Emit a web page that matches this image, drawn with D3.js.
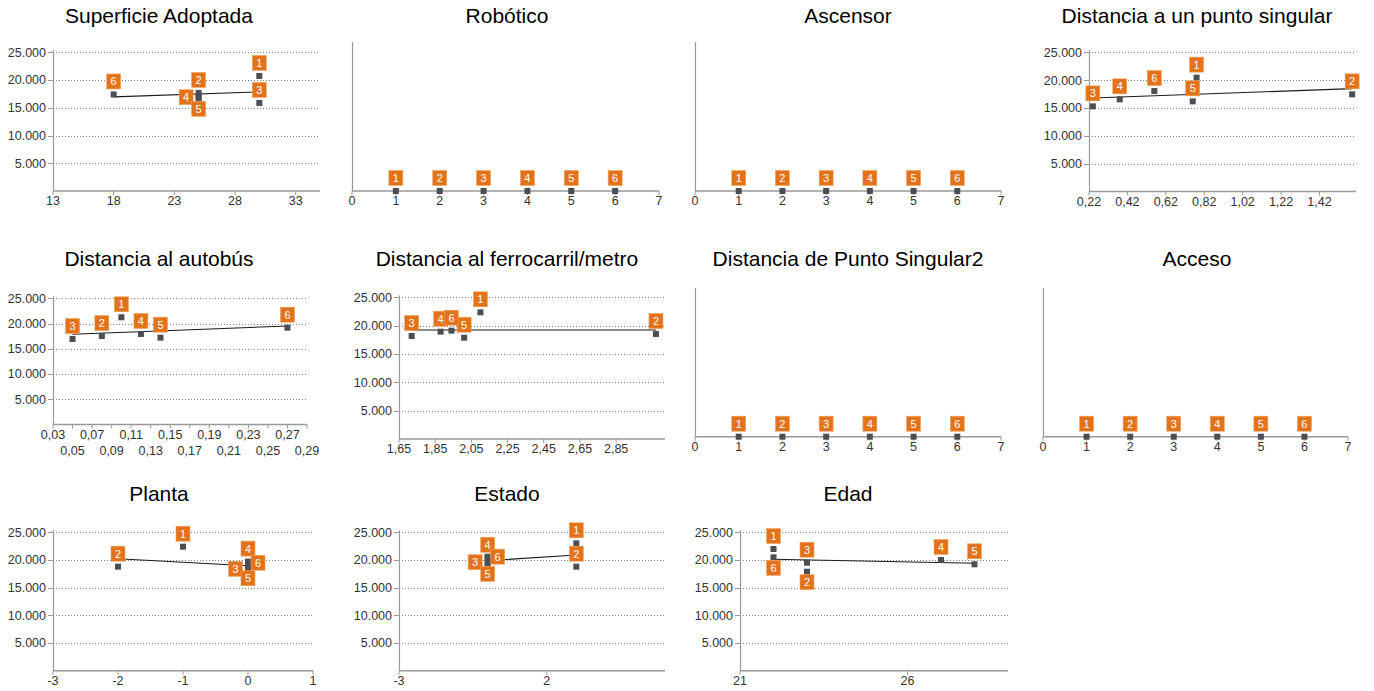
<!DOCTYPE html>
<html>
<head>
<meta charset="utf-8">
<script src="https://cdn.jsdelivr.net/npm/d3@7"></script>
<style>
  body { margin: 0; background: #fff; }
  svg { display: block; font-family: "Liberation Sans", Arial, sans-serif; }
</style>
</head>
<body>
<svg id="chart"></svg>
<script>
// ---- data ----
const pointIds = [1, 2, 3, 4, 5, 6];
const yTicks = [5000, 10000, 15000, 20000, 25000];

const superficieX = [30, 25, 30, 25, 25, 18];
const superficieY = [20740, 17680, 15880, 16900, 16700, 17400];
const superficieTrend = [[18, 16960], [30, 17860]];
const superficieTicks = [13, 18, 23, 28, 33];

const roboticoX = [1, 2, 3, 4, 5, 6];
const roboticoY = [0, 0, 0, 0, 0, 0];
const ascensorX = [1, 2, 3, 4, 5, 6];
const ascensorY = [0, 0, 0, 0, 0, 0];
const unitTicks = [0, 1, 2, 3, 4, 5, 6, 7];

const puntoX = [0.78, 1.59, 0.24, 0.38, 0.76, 0.56];
const puntoY = [20450, 17450, 15290, 16550, 16190, 18040];
const puntoTrend = [[0.24, 16780], [1.59, 18470]];
const puntoTicks = [0.22, 0.42, 0.62, 0.82, 1.02, 1.22, 1.42];

const autobusX = [0.10, 0.08, 0.05, 0.12, 0.14, 0.27];
const autobusY = [21240, 17530, 16940, 17930, 17200, 19180];
const autobusTrend = [[0.05, 17870], [0.27, 19510]];
const autobusTicks = [0.03, 0.05, 0.07, 0.09, 0.11, 0.13, 0.15, 0.17, 0.19, 0.21, 0.23, 0.25, 0.27, 0.29];

const ferroX = [2.10, 3.07, 1.72, 1.88, 2.01, 1.94];
const ferroY = [22350, 18520, 18170, 18930, 17870, 19110];
const ferroTrend = [[1.72, 19230], [3.07, 19230]];
const ferroTicks = [1.65, 1.85, 2.05, 2.25, 2.45, 2.65, 2.85];

const singular2X = [1, 2, 3, 4, 5, 6];
const singular2Y = [0, 0, 0, 0, 0, 0];
const accesoX = [1, 2, 3, 4, 5, 6];
const accesoY = [0, 0, 0, 0, 0, 0];

const plantaX = [-1, -2, 0, 0, 0, 0];
const plantaY = [22400, 18790, 18400, 19700, 18600, 19500];
const plantaTrend = [[-2, 20230], [0, 18970]];
const plantaTicks = [-3, -2, -1, 0, 1];

const estadoX = [3, 3, 0, 0, 0, 0];
const estadoY = [23010, 18790, 19600, 20400, 19400, 20600];
const estadoTrend = [[0, 19870], [3, 20900]];
const estadoTicks = [-3, 2];

const edadX = [22, 23, 23, 27, 28, 22];
const edadY = [21980, 17880, 19510, 20000, 19220, 20480];
const edadTrend = [[22, 20120], [28, 19400]];
const edadTicks = [21, 26];

// ---- layout ----
const width = 1374, height = 691;
const loc = d3.formatLocale({ decimal: ",", thousands: ".", grouping: [3], currency: ["", ""], minus: "-" });
const fmtY = loc.format(",d");
const fmtInt = loc.format("d");
const fmtDec = loc.format(".2f");

const labelOffset = { up: [0, -13], down: [0, 10.5], left: [-12.5, 0], right: [10, 0] };
const allUp = ["up", "up", "up", "up", "up", "up"];

const panels = [
  { title: "Superficie Adoptada", tx: 159, ty: 23, xs: superficieX, ys: superficieY, trend: superficieTrend,
    ticks: superficieTicks, domain: [13, 35], fmt: fmtInt, grid: true, x0: 53, x1: 320, base: 191, top: 52.3,
    sides: ["up", "up", "up", "left", "down", "up"] },
  { title: "Robótico", tx: 507, ty: 23, xs: roboticoX, ys: roboticoY, ticks: unitTicks, domain: [0, 7],
    fmt: fmtInt, grid: false, x0: 352, x1: 659, base: 191, top: 42, sides: allUp },
  { title: "Ascensor", tx: 848, ty: 23, xs: ascensorX, ys: ascensorY, ticks: unitTicks, domain: [0, 7],
    fmt: fmtInt, grid: false, x0: 695, x1: 1001, base: 191, top: 42, sides: allUp },
  { title: "Distancia a un punto singular", tx: 1197, ty: 23, xs: puntoX, ys: puntoY, trend: puntoTrend,
    ticks: puntoTicks, domain: [0.22, 1.61], fmt: fmtDec, grid: true, x0: 1089, x1: 1356, base: 191.5, top: 52.3,
    sides: allUp },
  { title: "Distancia al autobús", tx: 159, ty: 266, xs: autobusX, ys: autobusY, trend: autobusTrend,
    ticks: autobusTicks, domain: [0.03, 0.29], fmt: fmtDec, grid: true, stagger: true, x0: 53, x1: 307,
    base: 424.5, top: 298.3, sides: allUp },
  { title: "Distancia al ferrocarril/metro", tx: 507, ty: 266, xs: ferroX, ys: ferroY, trend: ferroTrend,
    ticks: ferroTicks, domain: [1.65, 3.12], fmt: fmtDec, grid: true, x0: 399, x1: 665, base: 439, top: 297.3,
    sides: allUp },
  { title: "Distancia de Punto Singular2", tx: 848, ty: 266, xs: singular2X, ys: singular2Y, ticks: unitTicks,
    domain: [0, 7], fmt: fmtInt, grid: false, x0: 695, x1: 1001, base: 436.7, top: 288, sides: allUp },
  { title: "Acceso", tx: 1197, ty: 266, xs: accesoX, ys: accesoY, ticks: unitTicks, domain: [0, 7],
    fmt: fmtInt, grid: false, x0: 1043, x1: 1348, base: 436.7, top: 288, sides: allUp },
  { title: "Planta", tx: 159, ty: 501, xs: plantaX, ys: plantaY, trend: plantaTrend, ticks: plantaTicks,
    domain: [-3, 1], fmt: fmtInt, grid: true, x0: 53, x1: 313, base: 670.7, top: 532.3,
    sides: ["up", "up", "left", "up", "down", "right"] },
  { title: "Estado", tx: 507, ty: 501, xs: estadoX, ys: estadoY, trend: estadoTrend, ticks: estadoTicks,
    domain: [-3, 6], fmt: fmtInt, grid: true, x0: 399, x1: 665, base: 670.7, top: 532.3,
    sides: ["up", "up", "left", "up", "down", "right"] },
  { title: "Edad", tx: 848, ty: 501, xs: edadX, ys: edadY, trend: edadTrend, ticks: edadTicks,
    domain: [21, 29], fmt: fmtInt, grid: true, x0: 740, x1: 1008, base: 670.7, top: 532.3,
    sides: ["up", "down", "up", "up", "up", "down"] }
];

const svg = d3.select("#chart").attr("width", width).attr("height", height);

function drawPanel(p) {
  const g = svg.append("g");
  const x = d3.scaleLinear().domain(p.domain).range([p.x0, p.x1]);
  const y = d3.scaleLinear().domain([0, 25000]).range([p.base, p.top]);

  // title
  g.append("text")
    .attr("x", p.tx).attr("y", p.ty)
    .attr("text-anchor", "middle")
    .style("font-size", "21px")
    .style("fill", "#000")
    .text(p.title);

  // gridlines + y ticks
  if (p.grid) {
    g.selectAll(".grid")
      .data(yTicks)
      .join("line")
      .attr("x1", p.x0).attr("x2", p.x1)
      .attr("y1", d => Math.round(y(d)) + 0.5).attr("y2", d => Math.round(y(d)) + 0.5)
      .attr("stroke", "#7a7a7a")
      .attr("stroke-dasharray", "1,2");

    g.selectAll(".ytick")
      .data(yTicks)
      .join("line")
      .attr("x1", p.x0 - 5).attr("x2", p.x0)
      .attr("y1", d => Math.round(y(d)) + 0.5).attr("y2", d => Math.round(y(d)) + 0.5)
      .attr("stroke", "#999");

    g.selectAll(".ylab")
      .data(yTicks)
      .join("text")
      .attr("x", p.x0 - 7).attr("y", d => y(d))
      .attr("dy", "0.35em")
      .attr("text-anchor", "end")
      .style("font-size", "12.5px")
      .style("fill", "#333")
      .text(d => fmtY(d));
  }

  // axes lines
  g.append("line")
    .attr("x1", p.x0 + 0.5).attr("x2", p.x0 + 0.5)
    .attr("y1", p.base).attr("y2", p.grid ? p.top - 2 : p.top)
    .attr("stroke", "#999").attr("stroke-width", 1.2);
  g.append("line")
    .attr("x1", p.x0).attr("x2", p.x1)
    .attr("y1", p.base).attr("y2", p.base)
    .attr("stroke", "#999").attr("stroke-width", 1.5);

  // x ticks
  g.selectAll(".xtick")
    .data(p.ticks)
    .join("line")
    .attr("x1", d => x(d)).attr("x2", d => x(d))
    .attr("y1", p.base).attr("y2", p.base + 4)
    .attr("stroke", "#999");

  g.selectAll(".xlab")
    .data(p.ticks)
    .join("text")
    .attr("x", d => x(d))
    .attr("y", (d, i) => p.base + 14 + (p.stagger && i % 2 === 1 ? 16.5 : 0))
    .attr("text-anchor", "middle")
    .style("font-size", "12.5px")
    .style("fill", "#333")
    .text(d => p.fmt(d));

  // trend line
  if (p.trend) {
    g.append("path")
      .datum(p.trend)
      .attr("d", d3.line().x(d => x(d[0])).y(d => y(d[1])))
      .attr("fill", "none")
      .attr("stroke", "#1a1a1a")
      .attr("stroke-width", 1.1);
  }

  const pts = pointIds.map((id, i) => ({ id, xv: p.xs[i], yv: p.ys[i], side: p.sides[i] }));

  // points
  g.selectAll(".pt")
    .data(pts)
    .join("rect")
    .attr("x", d => x(d.xv) - 3).attr("y", d => y(d.yv) - 3)
    .attr("width", 6).attr("height", 6)
    .attr("fill", "#4b4f55");

  // labels
  const lab = g.selectAll(".lab")
    .data(pts)
    .join("g")
    .attr("transform", d => {
      const o = labelOffset[d.side];
      return `translate(${x(d.xv) + o[0]},${y(d.yv) + o[1]})`;
    });
  lab.append("rect")
    .attr("x", -7).attr("y", -7.5)
    .attr("width", 14).attr("height", 15)
    .attr("fill", "#e2731b")
    .attr("stroke", "#f2a25c").attr("stroke-width", 0.6);
  lab.append("text")
    .attr("y", 4)
    .attr("text-anchor", "middle")
    .style("font-size", "11px")
    .style("fill", "#fff")
    .text(d => d.id);
}

panels.forEach(drawPanel);
</script>
</body>
</html>
